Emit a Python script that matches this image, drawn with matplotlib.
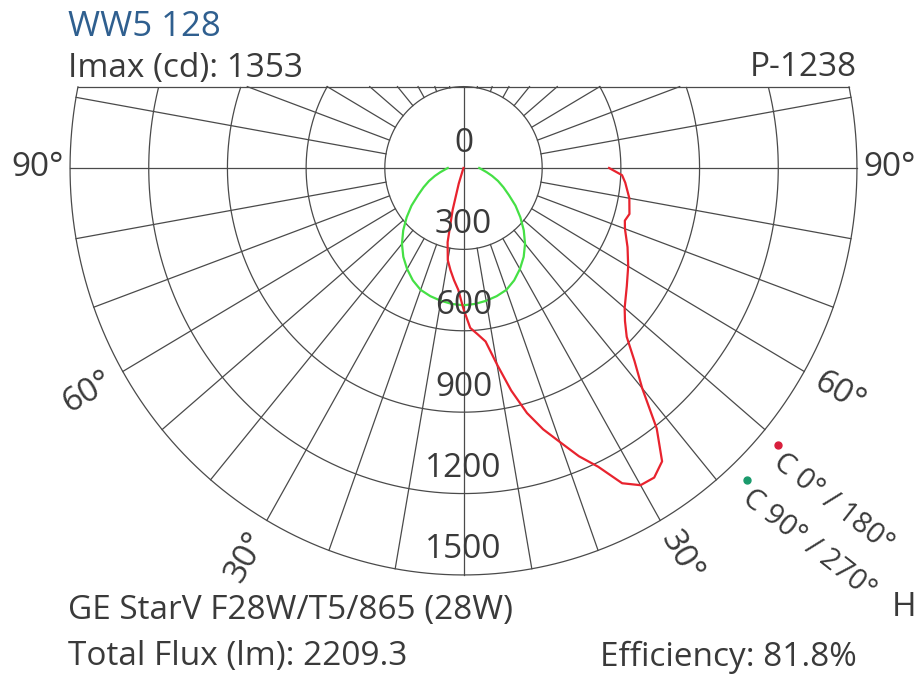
import numpy as np
import matplotlib
matplotlib.use("Agg")
import matplotlib.pyplot as plt

# ---------------- data ----------------
title = "WW5 128"
imax_text = "Imax (cd): 1353"
code_text = "P-1238"
lamp_text = "GE StarV F28W/T5/865 (28W)"
flux_text = "Total Flux (lm): 2209.3"
eff_text = "Efficiency: 81.8%"

# C0/180 plane (gamma from nadir, + towards C0)
gamma_c0 = [-90, -30, -20, -17.5, -15, -12.5, -10, -7.5, -5, -2.5, 0, 2.5, 5, 7.5,
            10, 12.5, 15, 17.5, 20, 22.5, 25, 27.5, 30, 32.5, 35, 37.5, 40, 42.5,
            45, 47.5, 50, 55, 60, 65, 70, 72.5, 75, 80, 85, 87.5, 90]
int_c0 = [0, 0, 5, 60, 160, 280, 345, 380, 415, 450, 520, 590, 615, 645,
          735, 840, 935, 1010, 1075, 1150, 1215, 1310, 1350, 1353, 1320, 1210, 1060, 965,
          880, 835, 802, 760, 725, 690, 655, 645, 655, 642, 619, 605, 555]

# C90/270 plane
gamma_c90 = [-90, -85, -80, -75, -70, -65, -60, -55, -50, -45, -40, -35, -30, -25, -20, -15,
             -10, -5, 0, 5, 10, 15, 20, 25, 30, 35, 40, 45, 50, 55, 60, 65, 70, 75, 80, 85, 90]
int_c90 = [60, 72, 90, 113, 140, 168, 200, 242, 283, 325, 365, 400, 430, 457, 478, 489,
           497, 503, 506, 503, 497, 489, 478, 457, 430, 400, 365, 325, 283, 242, 200, 168,
           140, 113, 90, 72, 60]

ring_values = [300, 600, 900, 1200, 1500]
ring_labels = ["0", "300", "600", "900", "1200", "1500"]
angle_ticks = [30, 60, 90]
legend_labels = ["C 0° / 180°", "C 90° / 270°"]

# ---------------- style ----------------
plt.rcParams["font.family"] = ["Open Sans", "DejaVu Sans"]
W, H = 917, 683
fig = plt.figure(figsize=(W / 100, H / 100), dpi=100)
ax = fig.add_axes([0, 0, 1, 1])
ax.axis("off")

cx, cy = 463.5, 168.0          # pixel position of the centre
sx, sy = 0.2623, 0.2713        # pixels per cd
ax.set_xlim(-cx / sx, (W - cx) / sx)
ax.set_ylim((cy - H) / sy, cy / sy)

grid_c = "#4a4a4a"
glw = 0.9
rmax = ring_values[-1]
rin = ring_values[0]
ytop = rin  # clipping line above the horizontal
FS = 24
lab_c = "#3a3a3a"

# circles
t = np.radians(np.linspace(-180, 180, 1441))
for R in ring_values:
    x = R * np.sin(t)
    y = -R * np.cos(t)
    y = np.where(y > ytop + 1e-6, np.nan, y)
    ax.plot(x, y, color=grid_c, lw=glw, zorder=1)

# top line
xt = np.sqrt(rmax ** 2 - ytop ** 2)
ax.plot([-xt, xt], [ytop, ytop], color=grid_c, lw=glw, zorder=1)
# horizontal and vertical axes
ax.plot([-rmax, rmax], [0, 0], color=grid_c, lw=glw, zorder=1)
ax.plot([0, 0], [-rmax, ytop], color=grid_c, lw=glw, zorder=1)

# radial lines every 10 degrees
for g in range(10, 180, 10):
    if g == 90:
        continue
    for s in (-1, 1):
        gr = np.radians(s * g)
        dx, dy = np.sin(gr), -np.cos(gr)
        r_end = rmax
        if dy > 0:
            r_end = min(rmax, ytop / dy)
        if r_end <= rin:
            continue
        ax.plot([rin * dx, r_end * dx], [rin * dy, r_end * dy],
                color=grid_c, lw=glw, zorder=1)

# curves
g0 = np.radians(gamma_c0)
i0 = np.array(int_c0, float)
g9 = np.radians(gamma_c90)
i9 = np.array(int_c90, float)
ax.plot(i9 * np.sin(g9), -i9 * np.cos(g9), color="#45e045", lw=1.6, zorder=3)
ax.plot(i0 * np.sin(g0), -i0 * np.cos(g0), color="#e8232e", lw=1.6, zorder=4)

# ring labels
for i, lab in enumerate(ring_labels):
    v = 0 if i == 0 else ring_values[i - 1]
    ax.text(0, -v + 92, lab, ha="center", va="center", fontsize=FS, color=lab_c, zorder=5)

# angle labels
r_lab = 1655
for a in angle_ticks:
    if a == 90:
        ax.text(-rmax - 25, 0, "90°", ha="right", va="center", fontsize=FS, color=lab_c)
        ax.text(rmax + 25, 0, "90°", ha="left", va="center", fontsize=FS, color=lab_c)
        continue
    ar = np.radians(a)
    ax.text(-r_lab * np.sin(ar), -r_lab * np.cos(ar), f"{a}°", ha="center", va="center",
            rotation=90 - a, fontsize=FS, color=lab_c, rotation_mode="anchor")
    ax.text(r_lab * np.sin(ar), -r_lab * np.cos(ar), f"{a}°", ha="center", va="center",
            rotation=a - 90, fontsize=FS, color=lab_c, rotation_mode="anchor")

# legend
def px(xp, yp):
    return (xp - cx) / sx, (cy - yp) / sy

for (xp, yp), col, lab, (tx, ty) in [((778, 445), "#d81f3c", legend_labels[0], (786, 448)),
                                     ((747, 480), "#1a9a6c", legend_labels[1], (755, 484))]:
    ax.plot(*px(xp, yp), "o", color=col, ms=5, zorder=5)
    ax.text(*px(tx, ty), lab, ha="left", va="top", rotation=-38, rotation_mode="anchor",
            fontsize=21, color=lab_c)

# header / footer texts
def ft(xp, yp, s, **kw):
    fig.text(xp / W, 1 - yp / H, s, va="center", **kw)

ft(68, 27, title, ha="left", fontsize=25, color="#2f5f8f")
ft(68, 68, imax_text, ha="left", fontsize=FS, color=lab_c)
ft(857, 68, code_text, ha="right", fontsize=FS, color=lab_c)
ft(68, 610, lamp_text, ha="left", fontsize=FS, color=lab_c)
ft(68, 657, flux_text, ha="left", fontsize=FS, color=lab_c)
ft(857, 657, eff_text, ha="right", fontsize=FS, color=lab_c)
ft(916, 607, "H", ha="right", fontsize=FS, color=lab_c)

fig.savefig("out.png", dpi=100, facecolor="white")
